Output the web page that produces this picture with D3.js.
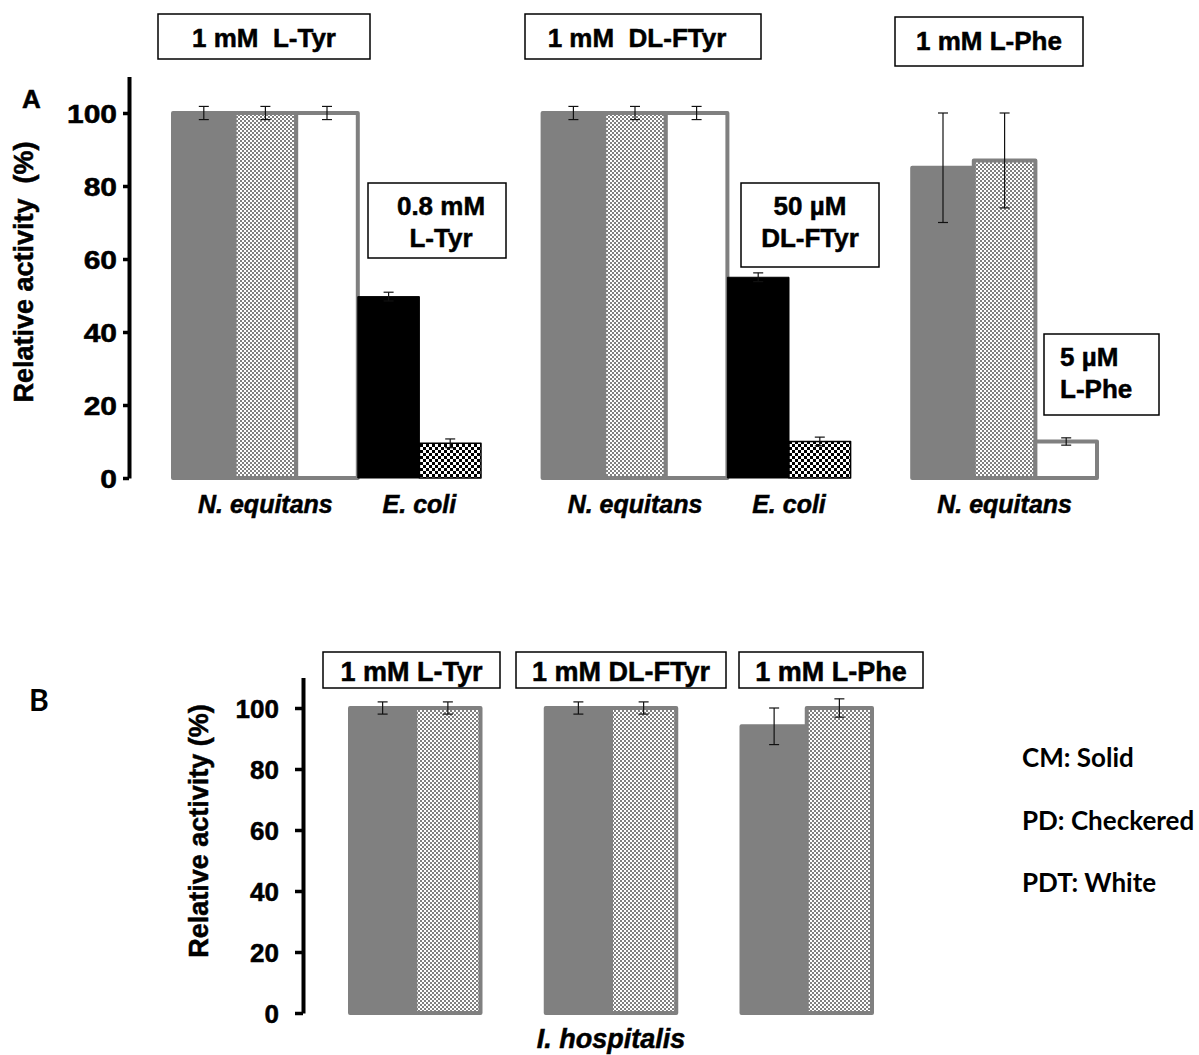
<!DOCTYPE html>
<html>
<head>
<meta charset="utf-8">
<script src="https://cdn.jsdelivr.net/npm/d3@7"></script>
<style>
  body { margin: 0; background: #fff; }
  text { font-family: "Liberation Sans", Arial, sans-serif; font-weight: bold; }
  text.heavy { stroke: #000; stroke-width: 0.5px; }
</style>
</head>
<body>
<script>
// ---- data ----
var condA = ["1 mM  L-Tyr", "1 mM  DL-FTyr", "1 mM L-Phe"];
var orgA = [
    ["N. equitans", "N. equitans", "N. equitans", "E. coli", "E. coli"],
    ["N. equitans", "N. equitans", "N. equitans", "E. coli", "E. coli"],
    ["N. equitans", "N. equitans", "N. equitans"]
];
var prepA = [
    ["CM", "PD", "PDT", "CM", "PD"],
    ["CM", "PD", "PDT", "CM", "PD"],
    ["CM", "PD", "PDT"]
];
var valA = [
    [100, 100, 100, 49.7, 9.5],
    [100, 100, 100, 55, 10],
    [85, 87, 10]
];
var errA = [
    [1.8, 1.8, 1.8, 1.2, 1.2],
    [1.8, 1.8, 1.8, 1.2, 1.2],
    [15, 13, 1]
];
var insetA = [["0.8 mM", "L-Tyr"], ["50 µM", "DL-FTyr"], ["5 µM", "L-Phe"]];

var condB = ["1 mM L-Tyr", "1 mM DL-FTyr", "1 mM L-Phe"];
var prepB = ["CM", "PD"];
var cmB = [100, 100, 94];
var cmErrB = [2, 2, 6];
var pdB = [100, 100, 100];
var pdErrB = [2, 2, 3];
var orgB = "I. hospitalis";

var legendLines = ["CM: Solid", "PD: Checkered", "PDT: White"];
var yTicks = [0, 20, 40, 60, 80, 100];

// ---- layout ----
var boxA = [{x: 158, y: 14, w: 212, h: 45, dx: 0}, {x: 525, y: 14, w: 236, h: 45, dx: -6}, {x: 895, y: 17, w: 188, h: 49, dx: 0}];
var insetBoxA = [
    {x: 368, y: 183, w: 138, h: 75, anchor: "middle", dx: 4},
    {x: 741, y: 183, w: 138, h: 84, anchor: "middle", dx: 0},
    {x: 1044, y: 334, w: 115, h: 81, anchor: "start", dx: 0}
];
var boxB = [{x: 323, y: 652, w: 177, h: 36, dx: 0}, {x: 516, y: 652, w: 210, h: 36, dx: 0}, {x: 739, y: 652, w: 184, h: 36, dx: 0}];

var svg = d3.select("body").append("svg")
    .attr("width", 1199)
    .attr("height", 1055);

var defs = svg.append("defs");
var pg = defs.append("pattern").attr("id", "chkGray")
    .attr("patternUnits", "userSpaceOnUse").attr("width", 4).attr("height", 4);
pg.append("rect").attr("width", 4).attr("height", 4).attr("fill", "#fff");
pg.append("rect").attr("width", 2).attr("height", 2).attr("fill", "#808080");
pg.append("rect").attr("x", 2).attr("y", 2).attr("width", 2).attr("height", 2).attr("fill", "#808080");

var pb = defs.append("pattern").attr("id", "chkBlack")
    .attr("patternUnits", "userSpaceOnUse").attr("width", 6).attr("height", 6);
pb.append("rect").attr("width", 6).attr("height", 6).attr("fill", "#fff");
pb.append("rect").attr("width", 3).attr("height", 3).attr("fill", "#000");
pb.append("rect").attr("x", 3).attr("y", 3).attr("width", 3).attr("height", 3).attr("fill", "#000");

function barStyle(org, prep) {
    if (org == "E. coli") {
        if (prep == "CM") return {fill: "#000", stroke: "#000", sw: 1};
        return {fill: "url(#chkBlack)", stroke: "#000", sw: 1.5};
    }
    if (prep == "CM") return {fill: "#808080", stroke: "#808080", sw: 4};
    if (prep == "PD") return {fill: "url(#chkGray)", stroke: "#808080", sw: 4};
    return {fill: "#fff", stroke: "#808080", sw: 4};
}

function drawBars(g, bars, x, y) {
    g.selectAll(".bar")
        .data(bars)
        .enter().append("rect")
        .attr("class", "bar")
        .attr("x", function (d) { return x(d.key); })
        .attr("width", x.bandwidth())
        .attr("y", function (d) { return y(d.v); })
        .attr("height", function (d) { return y(0) - y(d.v); })
        .attr("fill", function (d) { return d.st.fill; })
        .attr("stroke", function (d) { return d.st.stroke; })
        .attr("stroke-width", function (d) { return d.st.sw; })
        .attr("stroke-linejoin", "round");

    var eb = g.selectAll(".err")
        .data(bars)
        .enter().append("g")
        .attr("class", "err")
        .attr("stroke", "#111")
        .attr("stroke-width", 1.2);
    eb.append("line")
        .attr("x1", function (d) { return x(d.key) + x.bandwidth() / 2; })
        .attr("x2", function (d) { return x(d.key) + x.bandwidth() / 2; })
        .attr("y1", function (d) { return y(d.v + d.e); })
        .attr("y2", function (d) { return y(d.v - d.e); });
    [1, -1].forEach(function (s) {
        eb.append("line")
            .attr("x1", function (d) { return x(d.key) + x.bandwidth() / 2 - 5; })
            .attr("x2", function (d) { return x(d.key) + x.bandwidth() / 2 + 5; })
            .attr("y1", function (d) { return y(d.v + s * d.e); })
            .attr("y2", function (d) { return y(d.v + s * d.e); });
    });
}

function labelBox(g, b, lines, size, anchor, dyFirst, lineH) {
    g.append("rect")
        .attr("x", b.x).attr("y", b.y)
        .attr("width", b.w).attr("height", b.h)
        .attr("fill", "#fff").attr("stroke", "#000").attr("stroke-width", 1.5);
    var tx = anchor == "start" ? b.x + 16 : b.x + b.w / 2 + b.dx;
    lines.forEach(function (t, i) {
        g.append("text")
            .attr("class", "heavy")
            .attr("x", tx)
            .attr("y", b.y + dyFirst + i * lineH)
            .attr("text-anchor", anchor)
            .style("white-space", "pre")
            .style("font-size", size + "px")
            .text(t);
    });
}

// ================= Panel A =================
var slotsA = [];
var barsA = [];
valA.forEach(function (vals, ci) {
    vals.forEach(function (v, bi) {
        var key = ci + "-" + bi;
        slotsA.push(key);
        barsA.push({key: key, c: ci, org: orgA[ci][bi], v: v, e: errA[ci][bi],
                    st: barStyle(orgA[ci][bi], prepA[ci][bi])});
    });
    if (ci < valA.length - 1) slotsA.push("gap" + ci);
});

var xA = d3.scaleBand().domain(slotsA).range([173, 1097]).padding(0);
var yA = d3.scaleLinear().domain([0, 110]).range([478, 76.5]);

var gA = svg.append("g");

drawBars(gA, barsA, xA, yA);

var axA = gA.append("g")
    .attr("transform", "translate(129,0)")
    .call(d3.axisLeft(yA).tickValues(yTicks).tickSize(6).tickSizeOuter(0).tickPadding(4));
axA.select(".domain").attr("stroke-width", 4);
axA.selectAll(".tick line").attr("stroke-width", 3.5);
axA.selectAll(".tick text")
    .attr("class", "heavy")
    .style("font-size", "25px")
    .attr("dy", "0.36em")
    .attr("transform", "scale(1.2,1)");

gA.append("text")
    .attr("class", "heavy")
    .attr("transform", "translate(33,272) rotate(-90)")
    .attr("text-anchor", "middle")
    .style("white-space", "pre")
    .style("font-size", "27px")
    .text("Relative activity  (%)");

gA.append("text")
    .attr("class", "heavy")
    .attr("x", 22).attr("y", 108)
    .style("font-size", "26px")
    .text("A");

// organism labels under each group
condA.forEach(function (c, ci) {
    var orgs = d3.groups(barsA.filter(function (d) { return d.c == ci; }), function (d) { return d.org; });
    orgs.forEach(function (o) {
        var x0 = xA(o[1][0].key), x1 = xA(o[1][o[1].length - 1].key) + xA.bandwidth();
        gA.append("text")
            .attr("class", "heavy")
            .attr("x", (x0 + x1) / 2)
            .attr("y", 513)
            .attr("text-anchor", "middle")
            .style("font-size", "25px")
            .style("font-style", "italic")
            .text(o[0]);
    });
    labelBox(gA, boxA[ci], [c], 26, "middle", 33, 0);
    labelBox(gA, insetBoxA[ci], insetA[ci], 26, insetBoxA[ci].anchor, 32, 32);
});

// ================= Panel B =================
var slotsB = [];
var barsB = [];
condB.forEach(function (c, ci) {
    [cmB, pdB].forEach(function (arr, pi) {
        var key = ci + "-" + pi;
        slotsB.push(key);
        barsB.push({key: key, v: arr[ci], e: (pi == 0 ? cmErrB : pdErrB)[ci],
                    st: barStyle(orgB, prepB[pi])});
    });
    if (ci < condB.length - 1) slotsB.push("gap" + ci);
});

var xB = d3.scaleBand().domain(slotsB).range([350, 872]).padding(0);
var yB = d3.scaleLinear().domain([0, 110]).range([1013, 677.5]);

var gB = svg.append("g");

drawBars(gB, barsB, xB, yB);

var axB = gB.append("g")
    .attr("transform", "translate(303,0)")
    .call(d3.axisLeft(yB).tickValues(yTicks).tickSize(8).tickSizeOuter(0).tickPadding(16));
axB.select(".domain").attr("stroke-width", 4);
axB.selectAll(".tick line").attr("stroke-width", 3.5);
axB.selectAll(".tick text")
    .attr("class", "heavy")
    .style("font-size", "26px")
    .attr("dy", "0.36em");

gB.append("text")
    .attr("class", "heavy")
    .attr("transform", "translate(208,831) rotate(-90)")
    .attr("text-anchor", "middle")
    .style("font-size", "27px")
    .text("Relative activity (%)");

gB.append("text")
    .attr("x", 29).attr("y", 711)
    .style("font-family", "Lato, sans-serif")
    .style("font-size", "30px")
    .text("B");

condB.forEach(function (c, ci) {
    labelBox(gB, boxB[ci], [c], 27, "middle", 29, 0);
});

gB.append("text")
    .attr("class", "heavy")
    .attr("x", (xB("1-0") + xB("1-1") + xB.bandwidth()) / 2)
    .attr("y", 1048)
    .attr("text-anchor", "middle")
    .style("font-size", "27px")
    .style("font-style", "italic")
    .text(orgB);

gB.selectAll(".legend")
    .data(legendLines)
    .enter().append("text")
    .attr("class", "legend")
    .attr("x", 1022)
    .attr("y", function (d, i) { return 767 + i * 62.5; })
    .style("font-family", "Lato, sans-serif")
    .style("font-size", "26px")
    .text(function (d) { return d; });
</script>
</body>
</html>
